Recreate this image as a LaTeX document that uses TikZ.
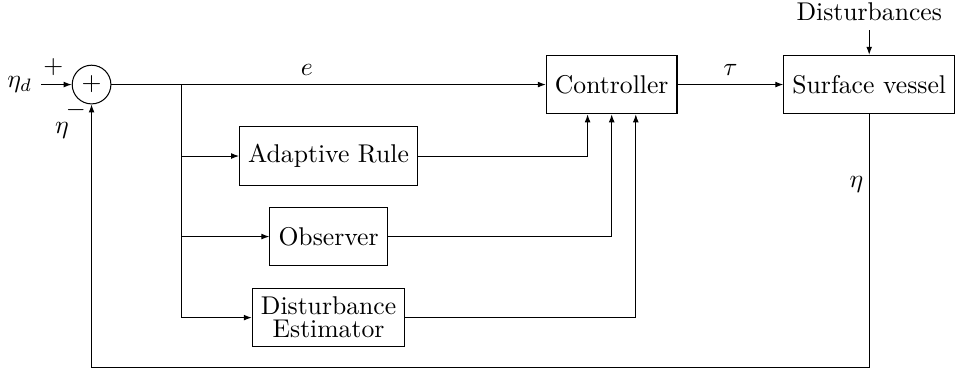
\documentclass[tikz,border=0pt]{standalone}
\usepackage{amsmath}
\usetikzlibrary{arrows.meta, positioning, calc}
\newcommand{\figArrow}{{Latex[length=1.1mm, width=0.8mm]}}

\begin{document}
\begin{tikzpicture}[block/.style={draw, rectangle, minimum height=0.8cm, align=center}]
	\def\Y{-1.158}
	\def\X{4.5}
	\useasboundingbox (0,0) rectangle (13.08,-5.08);
	
	% main loop
	\node (ref) at (0.27,\Y) {$\eta_d$};
	\node[draw, circle, minimum size=0.53cm, inner sep=0pt] (sum) at (1.254,\Y) {$+$};
	\node[block] (ctrl) at (8.378,\Y) {Controller};
	\node[block] (vessel) at (11.905,\Y) {Surface vessel};
	\node[above=0.34cm of vessel] (dist) {Disturbances};
	
	% estimation blocks
	\node[block] (adapt) at (\X,-2.137) {Adaptive Rule};
	\node[block] (obs) at (\X,-3.24) {Observer};
	\node[block] (est) at (\X,-4.35) {Disturbance\\[-3pt]Estimator};
	
	\coordinate (split) at (2.48,\Y);
	\coordinate (fb) at (0,-5.03);
	
	\draw[-\figArrow] (ref) -- (sum) node[pos=0.4, above] {$+$};
	\draw[-\figArrow] (sum) -- (ctrl) node[pos=0.45, above] {$e$};
	\draw[-\figArrow] (ctrl) -- (vessel) node[midway, above] {$\tau$};
	\draw[-\figArrow] (dist) -- (vessel);
	\draw[-\figArrow] (vessel.south) -- (vessel.south |- fb) -| (sum.south);
	\node at (1.04,-1.51) {$-$};
	\node at (0.85,-1.79) {$\eta$};
	\node at (11.73,-2.52) {$\eta$};
	
	\draw[-\figArrow] (split) |- (adapt);
	\draw[-\figArrow] (split) |- (obs);
	\draw[-\figArrow] (split) |- (est);
	\draw[-\figArrow] (adapt) -| ([xshift=-0.33cm]ctrl.south);
	\draw[-\figArrow] (obs) -| (ctrl.south);
	\draw[-\figArrow] (est) -| ([xshift=0.33cm]ctrl.south);
\end{tikzpicture}
\end{document}
